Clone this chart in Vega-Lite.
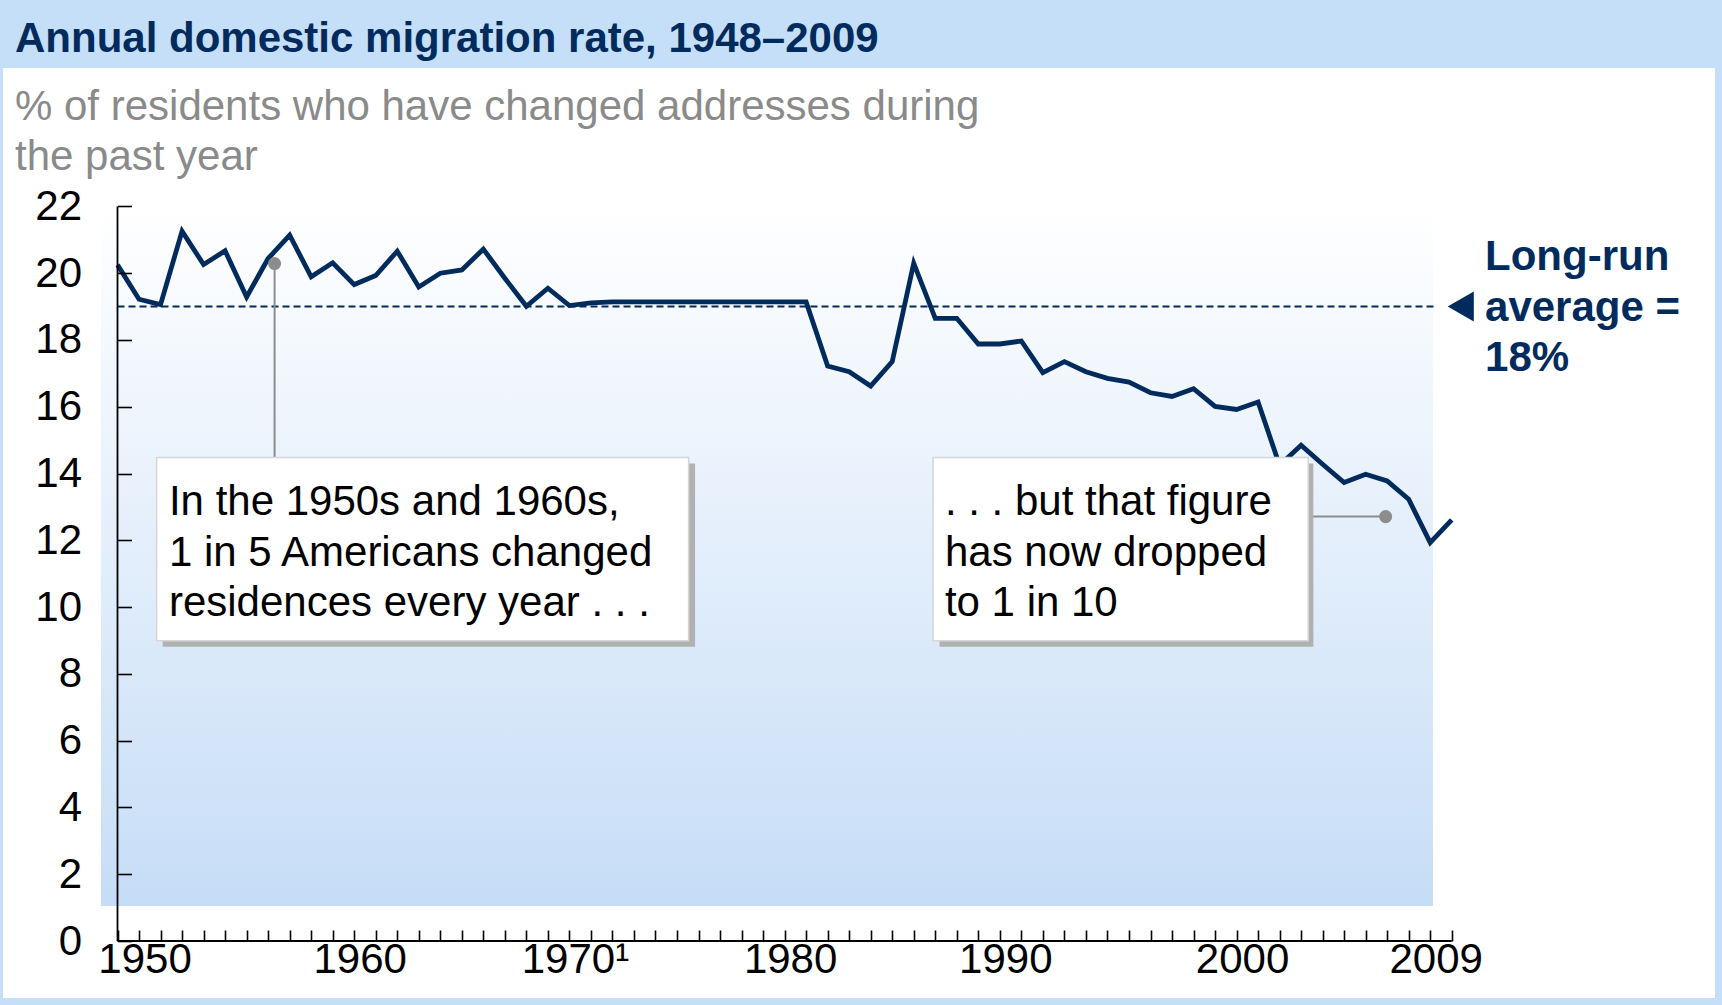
{
  "$schema": "https://vega.github.io/schema/vega-lite/v6.json",
  "width": 1712,
  "height": 930,
  "autosize": {"type": "none"},
  "padding": {"left": 3, "top": 68, "right": 7, "bottom": 7},
  "background": "#c6dff8",
  "config": {
    "font": "Liberation Sans",
    "view": {"fill": "white", "stroke": null},
    "axis": {"grid": false, "domain": false, "labelFont": "Liberation Sans", "labelFontSize": 42, "labelColor": "#000000", "tickColor": "#000000", "tickWidth": 1.6}
  },
  "title": {
    "text": "Annual domestic migration rate, 1948–2009",
    "subtitle": ["% of residents who have changed addresses during", "the past year"],
    "anchor": "start",
    "frame": "group",
    "orient": "top",
    "font": "Liberation Sans",
    "fontSize": 42,
    "fontWeight": "bold",
    "color": "#002b5c",
    "subtitleFont": "Liberation Sans",
    "subtitleFontSize": 42,
    "subtitleColor": "#8a8a8a",
    "subtitleLineHeight": 50.5,
    "subtitlePadding": 26,
    "offset": -111,
    "dx": 12
  },
  "datasets": {
    "migration": [
      {"year": 1948, "rate": 20.25}, {"year": 1949, "rate": 19.22}, {"year": 1950, "rate": 19.06},
      {"year": 1951, "rate": 21.26}, {"year": 1952, "rate": 20.26}, {"year": 1953, "rate": 20.67},
      {"year": 1954, "rate": 19.29}, {"year": 1955, "rate": 20.44}, {"year": 1956, "rate": 21.14},
      {"year": 1957, "rate": 19.89}, {"year": 1958, "rate": 20.31}, {"year": 1959, "rate": 19.66},
      {"year": 1960, "rate": 19.93}, {"year": 1961, "rate": 20.66}, {"year": 1962, "rate": 19.59},
      {"year": 1963, "rate": 20.0}, {"year": 1964, "rate": 20.1}, {"year": 1965, "rate": 20.72},
      {"year": 1966, "rate": 19.85}, {"year": 1967, "rate": 19.01}, {"year": 1968, "rate": 19.55},
      {"year": 1969, "rate": 19.03}, {"year": 1970, "rate": 19.11}, {"year": 1971, "rate": 19.14},
      {"year": 1972, "rate": 19.14}, {"year": 1973, "rate": 19.14}, {"year": 1974, "rate": 19.14},
      {"year": 1975, "rate": 19.14}, {"year": 1976, "rate": 19.14}, {"year": 1977, "rate": 19.14},
      {"year": 1978, "rate": 19.14}, {"year": 1979, "rate": 19.14}, {"year": 1980, "rate": 19.14},
      {"year": 1981, "rate": 17.22}, {"year": 1982, "rate": 17.05}, {"year": 1983, "rate": 16.62},
      {"year": 1984, "rate": 17.35}, {"year": 1985, "rate": 20.3}, {"year": 1986, "rate": 18.65},
      {"year": 1987, "rate": 18.65}, {"year": 1988, "rate": 17.88}, {"year": 1989, "rate": 17.88},
      {"year": 1990, "rate": 17.97}, {"year": 1991, "rate": 17.02}, {"year": 1992, "rate": 17.35},
      {"year": 1993, "rate": 17.05}, {"year": 1994, "rate": 16.85}, {"year": 1994.5, "rate": 16.74},
      {"year": 1995, "rate": 16.42}, {"year": 1996, "rate": 16.31}, {"year": 1997, "rate": 16.54},
      {"year": 1998, "rate": 16.01}, {"year": 1999, "rate": 15.92}, {"year": 2000, "rate": 16.14},
      {"year": 2001, "rate": 14.25}, {"year": 2002, "rate": 14.85}, {"year": 2003, "rate": 14.28},
      {"year": 2004, "rate": 13.73}, {"year": 2005, "rate": 13.98}, {"year": 2006, "rate": 13.78},
      {"year": 2007, "rate": 13.23}, {"year": 2008, "rate": 11.93}, {"year": 2009, "rate": 12.61}
    ]
  },
  "layer": [
    {
      "data": {"values": [{}]},
      "mark": {
        "type": "rect",
        "color": {"gradient": "linear", "x1": 0, "y1": 0, "x2": 0, "y2": 1,
          "stops": [{"offset": 0, "color": "#ffffff"}, {"offset": 1, "color": "#c6ddf7"}]}
      },
      "encoding": {
        "x": {"datum": 1947.23, "type": "quantitative"},
        "x2": {"datum": 2008.13},
        "y": {"datum": 1.05, "type": "quantitative"},
        "y2": {"datum": 22}
      }
    },
    {
      "data": {"values": [{"average": 19}]},
      "mark": {"type": "rule", "color": "#002b5c", "strokeWidth": 2, "strokeDash": [7, 4]},
      "encoding": {
        "x": {"datum": 1948, "type": "quantitative"},
        "x2": {"datum": 2008.22},
        "y": {"field": "average", "type": "quantitative"}
      }
    },
    {
      "data": {"name": "migration"},
      "mark": {"type": "line", "color": "#002b5c", "strokeWidth": 4.8, "strokeJoin": "miter"},
      "encoding": {
        "x": {
          "field": "year", "type": "quantitative",
          "scale": {"domain": [1948, 1994, 1995, 2009], "range": [114.5, 1104.4, 1147.5, 1448.7], "nice": false, "zero": false},
          "axis": {
            "orient": "bottom", "offset": -57, "title": null, "zindex": 2,
            "values": [1948,1949,1950,1951,1952,1953,1954,1955,1956,1957,1958,1959,1960,1961,1962,1963,1964,1965,1966,1967,1968,1969,1970,1971,1972,1973,1974,1975,1976,1977,1978,1979,1980,1981,1982,1983,1984,1985,1986,1987,1988,1989,1990,1991,1992,1993,1994,1994.5,1995,1996,1997,1998,1999,2000,2001,2002,2003,2004,2005,2006,2007,2008,2009],
            "tickCount": 200,
            "tickMinStep": 0.25,
            "format": "d",
            "tickSize": -11, "labelPadding": 9, "labelOffset": -16,
            "labelExpr": "datum.value == 1970 ? '1970¹' : ((datum.value % 10 == 0 || datum.value == 2009) ? datum.label : '')",
            "labelOverlap": false, "labelFlush": false, "labelBound": false
          }
        },
        "y": {
          "field": "rate", "type": "quantitative",
          "scale": {"domain": [-1.707, 26.146], "nice": false, "zero": false},
          "axis": {
            "orient": "left", "offset": -114.5, "title": null, "zindex": 2,
            "values": [0, 2, 4, 6, 8, 10, 12, 14, 16, 18, 20, 22],
            "format": "d",
            "tickSize": -14, "labelPadding": 50,
            "labelOverlap": false, "labelFlush": false, "labelBound": false
          }
        }
      }
    },
    {
      "data": {"values": [{}]},
      "mark": {"type": "rule", "color": "#8c8c8c", "strokeWidth": 2},
      "encoding": {
        "x": {"datum": 1955.3, "type": "quantitative"},
        "y": {"datum": 20.29, "type": "quantitative"},
        "y2": {"datum": 14.48}
      }
    },
    {
      "data": {"values": [{}]},
      "mark": {"type": "rule", "color": "#8c8c8c", "strokeWidth": 2},
      "encoding": {
        "x": {"datum": 2002.33, "type": "quantitative"},
        "x2": {"datum": 2005.93},
        "y": {"datum": 12.71, "type": "quantitative"}
      }
    },
    {
      "data": {"values": [{"year": 1955.3, "rate": 20.29}, {"year": 2005.93, "rate": 12.71}]},
      "mark": {"type": "point", "filled": true, "color": "#8c8c8c", "size": 170, "opacity": 1},
      "encoding": {
        "x": {"field": "year", "type": "quantitative"},
        "y": {"field": "rate", "type": "quantitative"}
      }
    },
    {
      "data": {"values": [{}]},
      "mark": {"type": "rect", "color": "#b1b1b1"},
      "encoding": {
        "x": {"datum": 1950.1, "type": "quantitative"},
        "x2": {"datum": 1974.84},
        "y": {"datum": 14.3, "type": "quantitative"},
        "y2": {"datum": 8.81}
      }
    },
    {
      "data": {"values": [{}]},
      "mark": {"type": "rect", "color": "#b1b1b1"},
      "encoding": {
        "x": {"datum": 1986.2, "type": "quantitative"},
        "x2": {"datum": 2002.57},
        "y": {"datum": 14.3, "type": "quantitative"},
        "y2": {"datum": 8.81}
      }
    },
    {
      "data": {"values": [{}]},
      "mark": {"type": "rect", "fill": "#ffffff", "stroke": "#d6d6d6", "strokeWidth": 1.5},
      "encoding": {
        "x": {"datum": 1949.82, "type": "quantitative"},
        "x2": {"datum": 1974.54},
        "y": {"datum": 14.48, "type": "quantitative"},
        "y2": {"datum": 8.99}
      }
    },
    {
      "data": {"values": [{}]},
      "mark": {"type": "rect", "fill": "#ffffff", "stroke": "#d6d6d6", "strokeWidth": 1.5},
      "encoding": {
        "x": {"datum": 1985.9, "type": "quantitative"},
        "x2": {"datum": 2002.33},
        "y": {"datum": 14.48, "type": "quantitative"},
        "y2": {"datum": 8.99}
      }
    },
    {
      "data": {"values": [{"note": "In the 1950s and 1960s,\n1 in 5 Americans changed\nresidences every year . . ."}]},
      "mark": {"type": "text", "align": "left", "baseline": "middle", "fontSize": 42, "lineHeight": 50.5, "lineBreak": "\n", "color": "#000000"},
      "encoding": {
        "x": {"datum": 1950.39, "type": "quantitative"},
        "y": {"datum": 13.14, "type": "quantitative"},
        "text": {"field": "note"}
      }
    },
    {
      "data": {"values": [{"note": ". . . but that figure\nhas now dropped\nto 1 in 10"}]},
      "mark": {"type": "text", "align": "left", "baseline": "middle", "fontSize": 42, "lineHeight": 50.5, "lineBreak": "\n", "color": "#000000"},
      "encoding": {
        "x": {"datum": 1986.45, "type": "quantitative"},
        "y": {"datum": 13.14, "type": "quantitative"},
        "text": {"field": "note"}
      }
    },
    {
      "data": {"values": [{"average": 19}]},
      "mark": {"type": "point", "shape": "M0.87,-1L-0.87,0L0.87,1Z", "filled": true, "color": "#002b5c", "size": 900, "opacity": 1},
      "encoding": {
        "x": {"datum": 2009.42, "type": "quantitative"},
        "y": {"field": "average", "type": "quantitative"}
      }
    },
    {
      "data": {"values": [{"label": "Long-run\naverage =\n18%"}]},
      "mark": {"type": "text", "align": "left", "baseline": "middle", "fontSize": 42, "fontWeight": "bold", "lineHeight": 50.5, "lineBreak": "\n", "color": "#002b5c"},
      "encoding": {
        "x": {"datum": 2010.55, "type": "quantitative"},
        "y": {"datum": 20.48, "type": "quantitative"},
        "text": {"field": "label"}
      }
    },
    {
      "data": {"values": [{}]},
      "mark": {"type": "rule", "color": "#000000", "strokeWidth": 1.8},
      "encoding": {
        "x": {"datum": 1948, "type": "quantitative"},
        "x2": {"datum": 2009},
        "y": {"datum": 0, "type": "quantitative"}
      }
    },
    {
      "data": {"values": [{}]},
      "mark": {"type": "rule", "color": "#000000", "strokeWidth": 1.8},
      "encoding": {
        "x": {"datum": 1948, "type": "quantitative"},
        "y": {"datum": 0, "type": "quantitative"},
        "y2": {"datum": 22}
      }
    }
  ]
}
